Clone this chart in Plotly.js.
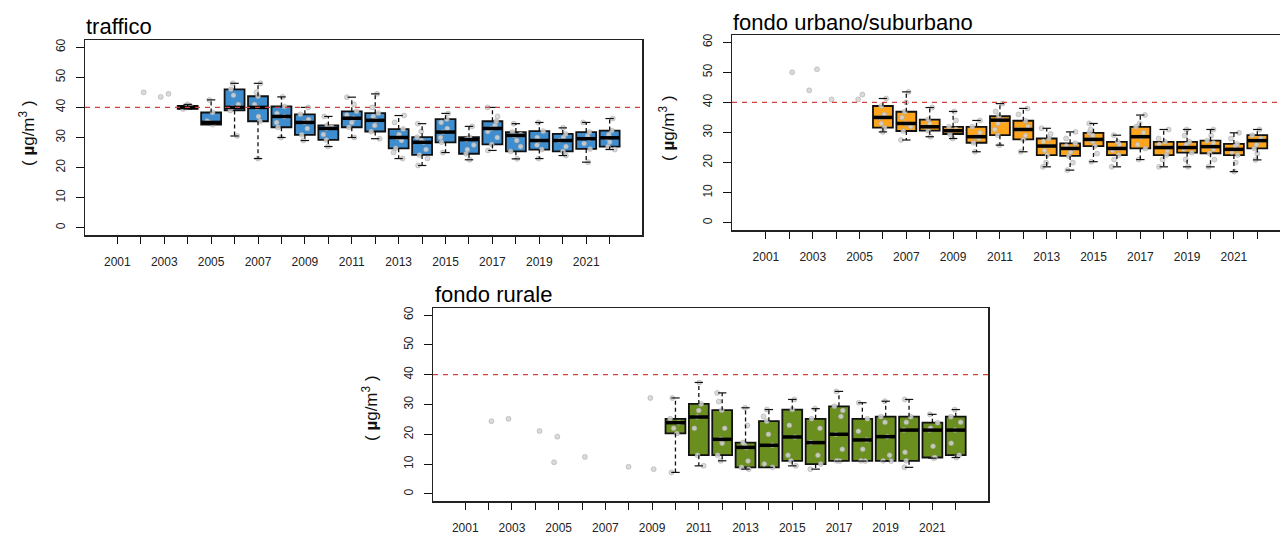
<!DOCTYPE html>
<html><head><meta charset="utf-8">
<script src="https://cdn.plot.ly/plotly-3.0.1.min.js"></script>
<style>html,body{margin:0;padding:0;background:#fff}#chart{width:1280px;height:535px}</style>
</head><body><div id="chart"></div>
<script>
// ---------- categories / ticks ----------
const years = [2001,2002,2003,2004,2005,2006,2007,2008,2009,2010,2011,2012,2013,2014,2015,2016,2017,2018,2019,2020,2021,2022];
const xTickLabels = ['2001',' ','2003',' ','2005',' ','2007',' ','2009',' ','2011',' ','2013',' ','2015',' ','2017',' ','2019',' ','2021',' '];
const yTicks = [0,10,20,30,40,50,60];
const LIMIT = 40;
const panelTitles = ['traffico','fondo urbano/suburbano','fondo rurale'];
const yLabel = '( <b>µ</b>g/m<sup>3</sup> )';

// ---------- traffico ----------
const trafQ1  = [null,null,null,39.5,34.3,39,35.4,33.4,30.9,29.2,33.4,32,26.4,24.2,28.4,24.6,27.7,25.4,26,25.4,26.2,27];
const trafMed = [null,null,null,40,35,40,40,37,35,33,36.4,35.7,30,28.4,31.8,29.3,33,30.7,29,29,29.6,29.9];
const trafQ3  = [null,null,null,40.5,38.3,46,43.7,40.3,37.7,34,38.7,38.1,32.8,30.1,36.1,30.1,35.4,31.8,32.1,31.2,31.8,32.3];
const trafLo  = [null,null,null,39.5,34.3,30.5,23,30,29,27,30,29.6,23,20.7,25,22.6,25.7,22.9,23,24,21.8,26];
const trafHi  = [null,null,null,41,42.5,48,48,43.5,40,37,43.4,44.5,37.3,34.6,38,33.7,40,34.6,35,33.2,35,36.3];
const trafPts = [
  [],[45],[44.5,43.5],[39.5,40,40.5,41],[34.3,35,35.5,38.3,42.5],
  [30.5,39,40,41,44,46,48],[23,35.4,37,40,41,43.7,45,48],[30,33.4,35,37,38,40.3,43.5],
  [29,30.9,33,35,36,37.7,40],[27,29.2,31,33,33.5,34,37],[30,33.4,35,36.4,37.5,38.7,41,43.4],
  [29.6,32,34,35.7,37,38.1,40,44.5],[23,25,26.4,29,30,31,32.8,35,37.3],[20.7,23,24.2,26,28.4,29,30.1,32,34.6],
  [25,28.4,30,31.8,33,35,36.1,38],[22.6,24.6,26,27.5,29.3,30.1,33.7],[25.7,27.7,30,32,33,34,35.4,37,40],
  [22.9,25.4,27,29,30.7,31,31.8,34.6],[23,26,27.5,29,30,32.1,35],[24,25.4,27,29,30,31.2,33.2],
  [21.8,26.2,28,29.6,30.5,31.8,35],[26,27,28.5,29.9,31,32.3,36.3]
];

// ---------- fondo urbano/suburbano ----------
const urbQ1  = [null,null,null,null,null,31.6,30.5,30.6,29.5,26.6,29.1,27.7,22.5,22.2,25.5,22.5,24.7,22.5,23.3,23.1,22.5,24.7];
const urbMed = [null,null,null,null,null,35,33,31.9,30.6,28.6,34.1,31,25.5,24.7,27.7,24.7,28.6,25,25,25.3,24.4,27.3];
const urbQ3  = [null,null,null,null,null,38.8,36.9,34.3,31.9,31.9,35.4,33.9,28,26.4,29.9,26.9,31.9,26.9,26.9,27.3,26.2,29.1];
const urbLo  = [null,null,null,null,null,30.2,27.5,28.6,28,23.6,25.8,23.6,18.6,17.5,20.3,18.6,21,18.6,18.6,18.6,17,20.9];
const urbHi  = [null,null,null,null,null,41.3,43.5,38.3,37,34,39.6,38,31.4,30.2,33,29.1,35.8,31,31,31,29.9,31];
const urbPts = [
  [],[50],[51,44],[41],[42.6,41],
  [30.2,31.6,33,35,36,38.8,41.3],[27.5,30.5,32,33,35,36.9,40,43.5],[28.6,30.6,31.9,33,34.3,38.3],
  [28,29.5,30.6,31,31.9,34,37],[23.6,26.6,28,28.6,30,31.9,34],[25.8,29.1,31,33,34.1,35.4,37,39.6],
  [23.6,27.7,29,31,32,33.9,36,38],[18.6,20,22.5,24,25.5,27,28,29.5,31.4],[17.5,20,22.2,23.5,24.7,25.5,26.4,28,30.2],
  [20.3,23,25.5,27,27.7,29,29.9,31,33],[18.6,21,22.5,24,24.7,26,26.9,29.1],[21,24.7,26,28.6,30,31.9,33,35.8],
  [18.6,21,22.5,24,25,26,26.9,28,31],[18.6,21,23.3,24.5,25,26,26.9,29,31],[18.6,21,23.1,24.5,25.3,26.5,27.3,29,31],
  [17,20,22.5,23.5,24.4,25.5,26.2,28,29.9],[20.9,23,24.7,26,27.3,28,29.1,31]
];

// ---------- fondo rurale ----------
const rurQ1  = [null,null,null,null,null,null,null,null,null,20.3,13,13,8.9,8.9,11.1,10,11.1,11.1,11.1,11.1,12.2,13];
const rurMed = [null,null,null,null,null,null,null,null,null,23.9,25.8,18.3,15.6,16.3,19.1,17.2,20,18.1,19.2,21.4,21.4,21.4];
const rurQ3  = [null,null,null,null,null,null,null,null,null,25.2,30.2,28.1,17.2,24.4,28.3,25.2,29.4,25.2,25.9,25.9,23.9,25.9];
const rurLo  = [null,null,null,null,null,null,null,null,null,7.2,9.4,11.1,8.3,8.9,9.4,8.3,11,11,11,8.9,12,12.2];
const rurHi  = [null,null,null,null,null,null,null,null,null,32.2,37.4,33.9,28.9,28.3,31.7,28.6,34.4,30.6,31.1,31.7,26.7,28.3];
const rurPts = [
  [],[24.4],[25.2],[21.1],[19.2,10.6],[12.4],[],[9.1],[8.3,32.2],
  [7.2,20.3,22,23.9,25.2,32.2],[9.4,13,22,25.8,28,30.2,37.4],[11.1,13,17,18.3,22,28.1,31,33.9],
  [8.3,8.9,11,15.6,16.5,17.2,23,28.9],[8.9,10,16.3,20,24.4,26,28.3],[9.4,11.1,13,19.1,23,28.3,31.7],
  [8.3,10,13,17.2,22,25.2,28.6],[11,11.1,15,20,26,28,29.4,34.4],[11,11.1,15,18.1,21,25.2,30.6],
  [11,11.1,13,19.2,24,25.9,31.1],[8.9,11.1,14,21.4,24,25.9,31.7],[12,12.2,16,21.4,22,23.9,26.7],
  [12.2,13,17,21.4,24,25.9,28.3]
];

const colors = ['#3d8dcf','#ffa51c','#6a8f1f'];

// ---------- builders ----------
function panelTraces(xa, ya, color, q1, med, q3, lo, hi, pts) {
  const idx = years.map((y,i)=>i).filter(i => q1[i] !== null);
  const X = idx.map(i => years[i]);
  const box = {
    type:'box', xaxis:xa, yaxis:ya, x:X,
    q1: idx.map(i=>q1[i]), median: idx.map(i=>med[i]), q3: idx.map(i=>q3[i]),
    lowerfence: idx.map(i=>q1[i]), upperfence: idx.map(i=>q3[i]),
    fillcolor: color, line:{color:'#111', width:1.8}, width:0.85, whiskerwidth:0,
    boxpoints:false, hoverinfo:'skip', showlegend:false
  };
  const wx = [], wy = [];
  idx.forEach(i => {
    wx.push(years[i], years[i], null, years[i], years[i], null);
    wy.push(q3[i], hi[i], null, q1[i], lo[i], null);
  });
  const whisk = {type:'scatter', mode:'lines', xaxis:xa, yaxis:ya, x:wx, y:wy,
    line:{color:'#111', width:1.3, dash:'4px,3px'}, hoverinfo:'skip', showlegend:false};
  const caps = {type:'scatter', mode:'markers', xaxis:xa, yaxis:ya,
    x: idx.flatMap(i=>[years[i], years[i]]), y: idx.flatMap(i=>[hi[i], lo[i]]),
    marker:{symbol:'line-ew', size:6, line:{color:'#111', width:1.2}}, hoverinfo:'skip', showlegend:false};
  const meds = {type:'scatter', mode:'markers', xaxis:xa, yaxis:ya, x:X, y: idx.map(i=>med[i]),
    marker:{symbol:'line-ew', size:13.6, line:{color:'#000', width:3.5}}, hoverinfo:'skip', showlegend:false};
  const px = [], py = [];
  pts.forEach((arr,i) => arr.forEach(v => { px.push(years[i]); py.push(v); }));
  const points = {
    type:'box', xaxis:xa, yaxis:ya, x:px, y:py, boxpoints:'all', jitter:0.55, pointpos:0,
    fillcolor:'rgba(0,0,0,0)', line:{color:'rgba(0,0,0,0)', width:0}, width:0.85,
    marker:{color:'rgba(212,212,212,0.85)', size:5, line:{color:'rgba(150,150,150,0.7)', width:0.6}},
    hoverinfo:'skip', showlegend:false
  };
  return [box, whisk, caps, meds, points];
}

const traces = [
  ...panelTraces('x','y',colors[0],trafQ1,trafMed,trafQ3,trafLo,trafHi,trafPts),
  ...panelTraces('x2','y2',colors[1],urbQ1,urbMed,urbQ3,urbLo,urbHi,urbPts),
  ...panelTraces('x3','y3',colors[2],rurQ1,rurMed,rurQ3,rurLo,rurHi,rurPts)
];

const W = 1280, H = 535;
const fx = p => p / W, fy = p => 1 - p / H;
const tickFont = {family:'Liberation Sans, Arial, sans-serif', size:12, color:'#222'};

function xAxis(domain, range, anchor) {
  return {domain, range, anchor, tickvals:years, ticktext:xTickLabels, tickmode:'array',
    ticks:'outside', ticklen:7, tickwidth:1, tickcolor:'#111',
    showline:true, linecolor:'#222', linewidth:1.5, mirror:true,
    showgrid:false, zeroline:false, tickfont:tickFont, ticklabelstandoff:8, fixedrange:true};
}
function yAxis(domain, anchor, mirror) {
  return {domain, range:[-2.4, 62.4], anchor, tickvals:yTicks, tickmode:'array', tickangle:-90,
    ticks:'outside', ticklen:8, tickwidth:1, tickcolor:'#111',
    showline:true, linecolor:'#222', linewidth:1.5, mirror:mirror,
    showgrid:false, zeroline:false, tickfont:tickFont, ticklabelstandoff:6, fixedrange:true};
}

const layout = {
  width:W, height:H, margin:{l:0,r:0,t:0,b:0}, paper_bgcolor:'#fff', plot_bgcolor:'#fff',
  boxmode:'overlay', showlegend:false,
  xaxis:  xAxis([fx(85), fx(642)], [1999.62, 2023.38], 'y'),
  yaxis:  yAxis([fy(235), fy(40)], 'x', true),
  xaxis2: xAxis([fx(732), 1], [1999.55, 2022.97], 'y2'),
  yaxis2: yAxis([fy(230), fy(35)], 'x2', false),
  xaxis3: xAxis([fx(433), fx(988)], [1999.62, 2023.38], 'y3'),
  yaxis3: yAxis([fy(501), fy(308)], 'x3', true),
  shapes: ['x','x2','x3'].map((xa,k) => ({
    type:'line', xref: xa + ' domain', yref: ['y','y2','y3'][k], x0:0, x1:1, y0:LIMIT, y1:LIMIT,
    line:{color:'#d0413f', width:1.3, dash:'5px,5px'}, layer:'above'
  })),
  annotations: [
    {text:panelTitles[0], x:fx(84), y:fy(41), xanchor:'left', yanchor:'bottom'},
    {text:panelTitles[1], x:fx(731), y:fy(37), xanchor:'left', yanchor:'bottom'},
    {text:panelTitles[2], x:fx(433), y:fy(309), xanchor:'left', yanchor:'bottom'}
  ].map(a => Object.assign(a, {xref:'paper', yref:'paper', showarrow:false,
      font:{family:'Liberation Sans, Arial, sans-serif', size:22, color:'#000'}}))
   .concat([[27,133],[667,128],[370,408]].map(([px,py]) => ({
      text:yLabel, x:fx(px), y:fy(py), xref:'paper', yref:'paper', showarrow:false,
      textangle:-90, xanchor:'center', yanchor:'middle',
      font:{family:'Liberation Sans, Arial, sans-serif', size:17, color:'#111'}
   })))
};

Plotly.newPlot('chart', traces, layout, {displayModeBar:false, staticPlot:true});
</script></body></html>
